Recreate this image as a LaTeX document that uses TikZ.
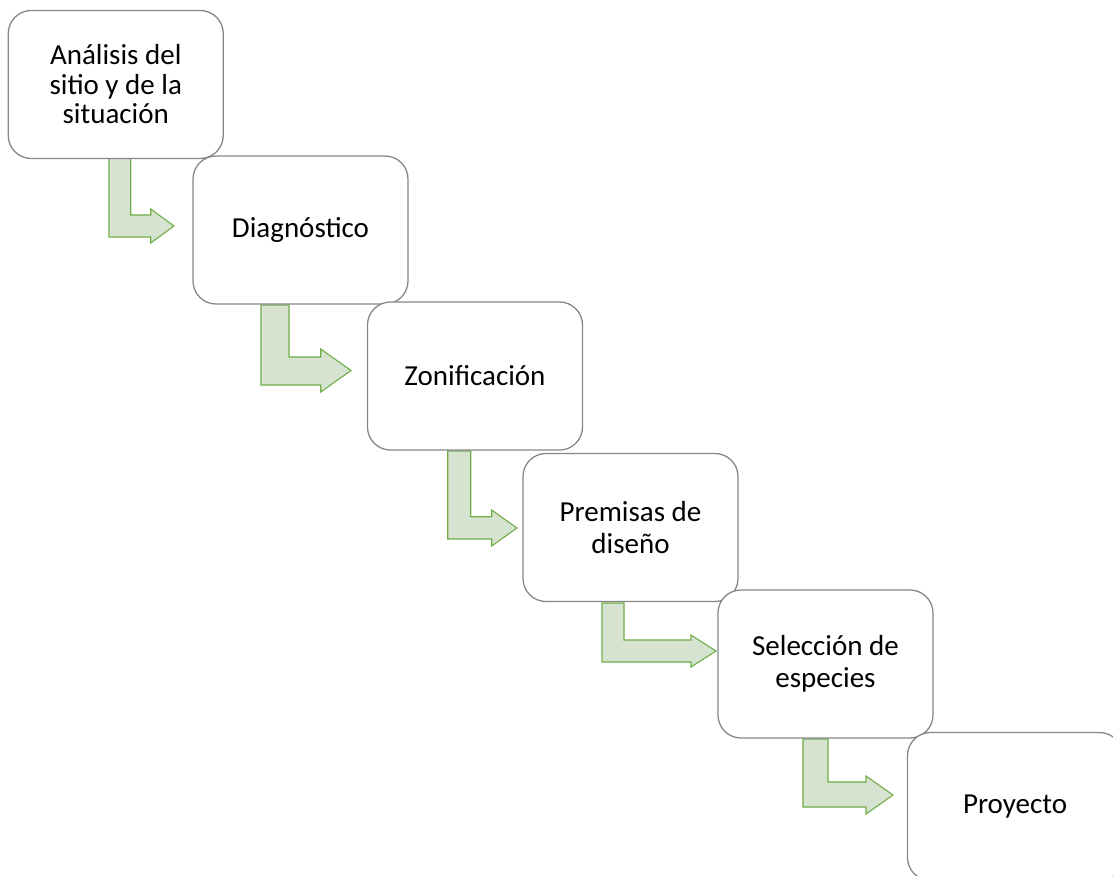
\documentclass[tikz,border=0pt]{standalone}
\usepackage{fontspec}
\setmainfont{Carlito}
\definecolor{boxline}{RGB}{135,135,135}
\definecolor{arrfill}{RGB}{214,227,208}
\definecolor{arrline}{RGB}{112,173,71}
\tikzset{
  stepbox/.style={draw=boxline, line width=1.3pt, fill=white, rounded corners=23pt,
    minimum width=215pt, minimum height=148pt, align=center, inner sep=0pt,
    font=\fontsize{29}{32}\selectfont},
  bent/.style={draw=arrline, fill=arrfill, line width=1.1pt, line join=miter}
}
\newcommand{\bentarrow}[9]{%
  \draw[bent] (#1,#3) -- (#2,#3) -- (#2,#4) -- (#6,#4) -- (#6,#7) -- (#8,#9)
     -- (#6,{2*#9-#7}) -- (#6,#5) -- (#1,#5) -- cycle;}
\begin{document}
\begin{tikzpicture}[x=1pt,y=-1pt]
\useasboundingbox (0,0) rectangle (1113,875);
% bent arrows
\bentarrow{109}{130.7}{158}{215}{237}{150.7}{209}{174}{226}
\bentarrow{261}{289}{305}{357}{385}{320.7}{349}{351}{370.5}
\bentarrow{447.7}{470.7}{451}{516.7}{539}{491.7}{510}{517}{528}
\bentarrow{602}{624}{603}{640}{662}{691}{635}{716}{651}
\bentarrow{803}{828}{739}{782}{807}{866}{776}{893}{795}
% boxes
\node[stepbox, font=\fontsize{29}{29.5}\selectfont] (b1) at (115.75,84.5) {Análisis del\\sitio y de la\\situación};
\node[stepbox] (b2) at (300.5,230) {Diagnóstico};
\node[stepbox] (b3) at (475,376) {Zonificación};
\node[stepbox] (b4) at (630.5,527.5) {Premisas de\\diseño};
\node[stepbox] (b5) at (825.5,664) {Selección de\\especies};
\node[stepbox] (b6) at (1015,806.5) {Proyecto};
\end{tikzpicture}
\end{document}
